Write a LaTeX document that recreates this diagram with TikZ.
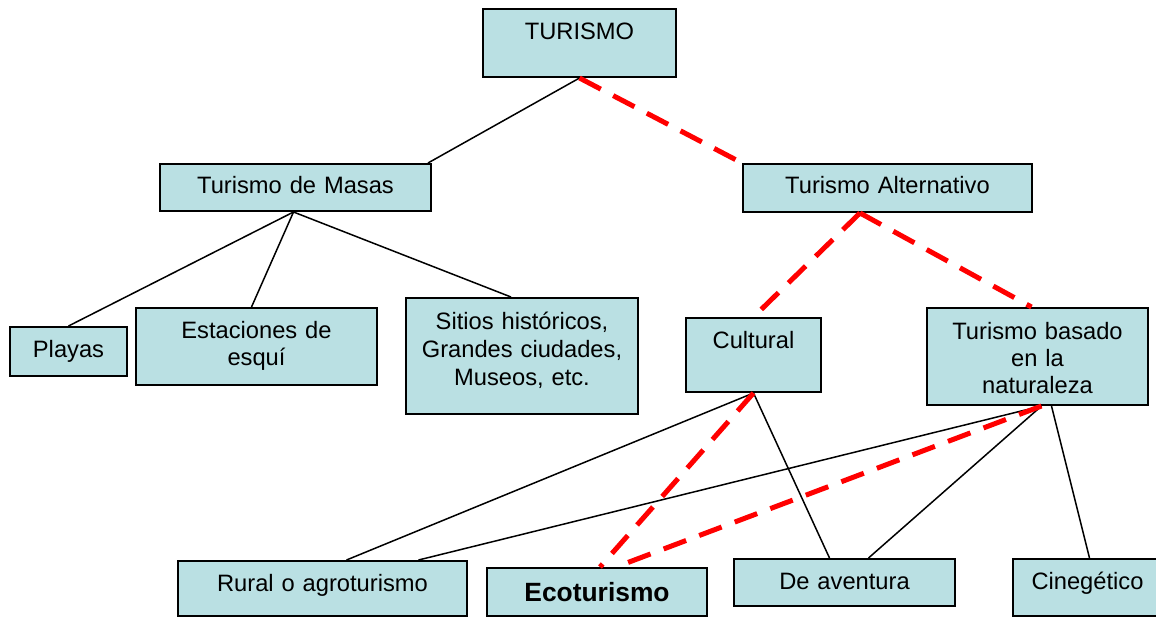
\documentclass[tikz,border=0pt]{standalone}
\usepackage{fontspec}
\setmainfont{Liberation Sans}
\definecolor{boxfill}{RGB}{186,224,227}
\definecolor{dashred}{RGB}{255,0,0}
\tikzset{
  box/.style={draw=black, line width=2pt, fill=boxfill, inner sep=0pt,
    anchor=north west, align=center,
    font=\fontsize{23.7}{27.5}\selectfont},
  boldbox/.style={box, font=\fontsize{26.4}{30}\selectfont\bfseries},
  link/.style={line width=1.5pt, draw=black},
  redlink/.style={line width=5pt, draw=dashred, dash pattern=on 24pt off 14pt},
}
\begin{document}
\begin{tikzpicture}[x=1pt, y=-1pt]
\useasboundingbox (0,0) rectangle (1156,616);

% connectors first (behind boxes)
\node[box, text width=193pt, text height=30pt, text depth=38pt] (turismo) at (482,8) {TURISMO};
\node[box, text width=271pt, text height=29pt, text depth=18pt] (masas) at (159,163) {Turismo de Masas};
\node[box, text width=289pt, text height=29pt, text depth=19pt] (alt) at (742,163) {Turismo Alternativo};
\node[box, text width=117pt, text height=30pt, text depth=19pt] (playas) at (9,326) {Playas};
\node[box, text width=241pt, text height=30pt, text depth=47pt] (estac) at (135,307) {Estaciones de\\esquí};
\node[box, text width=232pt, text height=31pt, text depth=85pt, font=\fontsize{23.7}{28}\selectfont] (sitios) at (405,297) {Sitios históricos,\\Grandes ciudades,\\Museos, etc.};
\node[box, text width=135pt, text height=30pt, text depth=44pt] (cultural) at (685,317) {Cultural};
\node[box, text width=221pt, text height=31pt, text depth=66pt, font=\fontsize{23.7}{27}\selectfont] (natur) at (926,307) {Turismo basado\\en la\\naturaleza};
\node[box, text width=289pt, text height=30pt, text depth=25pt] (rural) at (177,560) {Rural o agroturismo};
\node[boldbox, text width=220pt, text height=33pt, text depth=15pt] (eco) at (486,567) {Ecoturismo};
\node[box, text width=221pt, text height=30pt, text depth=17pt] (aventura) at (733,558) {De aventura};
\node[box, text width=149pt, text height=30pt, text depth=27pt] (cineg) at (1012,558) {Cinegético};

% level 1
\draw[link] (turismo.south) -- ([xshift=-4pt]masas.north east);
\draw[redlink] (turismo.south) -- (alt.north west);

% masas children
\coordinate (mapex) at ([xshift=-2pt]masas.south);
\draw[link] (mapex) -- (playas.north);
\draw[link] (mapex) -- ([xshift=-5pt]estac.north);
\draw[link] (mapex) -- ([xshift=-11pt]sitios.north);

% alternativo children
\coordinate (aapex) at ([xshift=118pt]alt.south west);
\draw[redlink] (aapex) -- (cultural.north);
\draw[redlink] (aapex) -- ([xshift=-6pt]natur.north);

% cultural children
\draw[link] (cultural.south) -- ([xshift=24pt]rural.north);
\draw[link] (cultural.south) -- ([xshift=-15pt]aventura.north);
\draw[redlink] (cultural.south) -- ([xshift=3pt]eco.north);

% naturaleza children
\coordinate (napex) at ([xshift=4pt]natur.south);
\draw[link] (napex) -- ([xshift=96pt]rural.north);
\draw[link] (napex) -- ([xshift=24pt]aventura.north);
\draw[link] ([xshift=14pt]natur.south) -- ([xshift=2pt]cineg.north);
\draw[redlink] (napex) -- ([xshift=19pt]eco.north);
\end{tikzpicture}
\end{document}
